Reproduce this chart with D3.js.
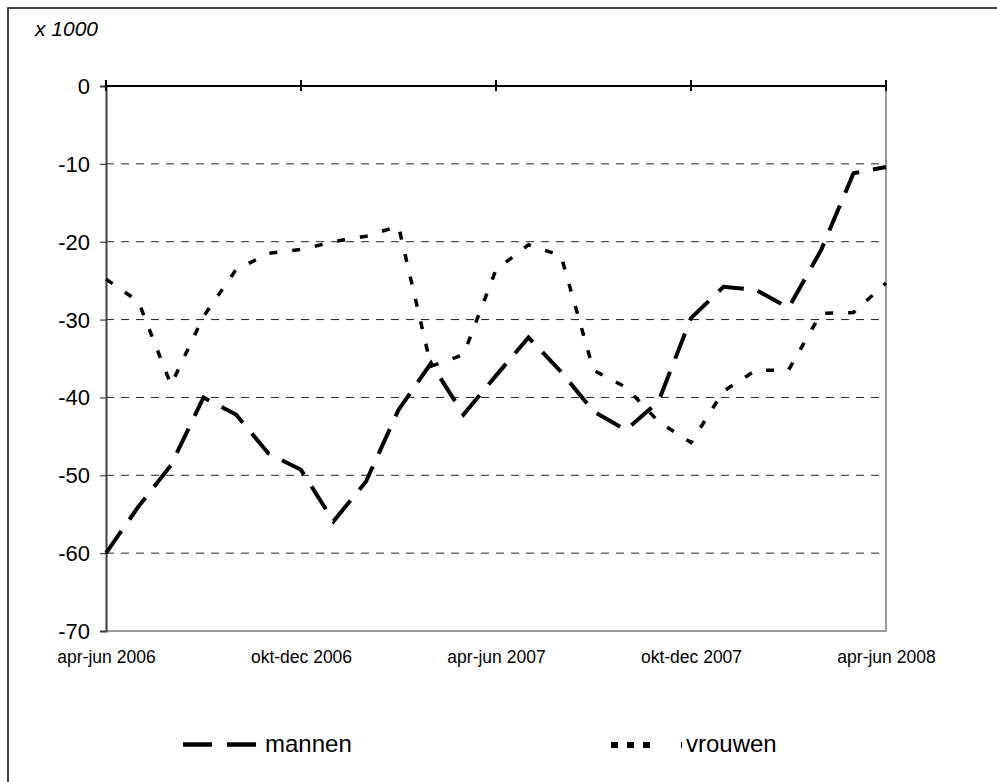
<!DOCTYPE html>
<html>
<head>
<meta charset="utf-8">
<script src="https://cdn.jsdelivr.net/npm/d3@7"></script>
<style>
  html, body { margin: 0; padding: 0; background: #fff; }
  svg { display: block; font-family: "Liberation Sans", Arial, sans-serif; }
</style>
</head>
<body>
<svg id="chart" width="997" height="782"></svg>
<script>
// ---- data ----
const periods = [
  "apr-jun 2006","mei-jul 2006","jun-aug 2006","jul-sep 2006","aug-okt 2006","sep-nov 2006",
  "okt-dec 2006","nov-jan 2007","dec-feb 2007","jan-mrt 2007","feb-apr 2007","mrt-mei 2007",
  "apr-jun 2007","mei-jul 2007","jun-aug 2007","jul-sep 2007","aug-okt 2007","sep-nov 2007",
  "okt-dec 2007","nov-jan 2008","dec-feb 2008","jan-mrt 2008","feb-apr 2008","mrt-mei 2008",
  "apr-jun 2008"
];
const mannen = [-60, -54.0, -48.7, -40.0, -42.2, -47.2, -49.3, -55.9, -50.8, -41.6, -35.6, -42.2,
                -37.2, -32.3, -36.7, -41.8, -44.2, -40.5, -29.8, -25.8, -26.2, -28.5, -21.1, -11.2, -10.4];
const vrouwen = [-24.8, -27.7, -38.4, -29.6, -23.6, -21.5, -21.0, -20.0, -19.3, -18.0, -36.0, -34.5,
                 -23.6, -20.4, -21.8, -36.5, -38.7, -43.1, -45.8, -39.2, -36.5, -36.5, -29.2, -29.1, -25.3];
const xTickLabels = ["apr-jun 2006","okt-dec 2006","apr-jun 2007","okt-dec 2007","apr-jun 2008"];
const yTicks = [0, -10, -20, -30, -40, -50, -60, -70];
const unitLabel = "x 1000";
const seriesNames = ["mannen", "vrouwen"];

// ---- layout ----
const svg = d3.select("#chart");
const L = 106, R = 886, T = 86, B = 631;

const x = d3.scalePoint().domain(periods).range([L, R]);
const y = d3.scaleLinear().domain([-70, 0]).range([B, T]);

// outer frame (top and left edges visible)
svg.append("path")
  .attr("d", "M8,782 L8,8 L997,8")
  .attr("fill", "none").attr("stroke", "#000").attr("stroke-width", 1.5);

// gridlines
svg.append("g").selectAll("line")
  .data(yTicks.filter(v => v !== 0 && v !== -70))
  .join("line")
  .attr("x1", L).attr("x2", R)
  .attr("y1", d => y(d)).attr("y2", d => y(d))
  .attr("stroke", "#222").attr("stroke-width", 1)
  .attr("stroke-dasharray", "8,7");

// right & bottom plot border (gray)
svg.append("path")
  .attr("d", `M${R},${T} L${R},${B} L${L},${B}`)
  .attr("fill", "none").attr("stroke", "#9a9a9a").attr("stroke-width", 2);

// y axis
const yAxis = d3.axisLeft(y).tickValues(yTicks).tickSize(6).tickPadding(10).tickFormat(d3.format("d"));
const gy = svg.append("g").attr("transform", `translate(${L},0)`).call(yAxis);
gy.select(".domain").attr("stroke", "#404040").attr("stroke-width", 2);
gy.selectAll(".tick line").attr("stroke", "#404040").attr("stroke-width", 1.2);
gy.selectAll(".tick text")
  .attr("font-size", 22).attr("fill", "#000")
  .attr("font-family", "'Liberation Sans', Arial, sans-serif")
  .text(d => d === 0 ? "0" : "-" + Math.abs(d))
  .attr("x", -16).attr("dy", "0.34em");

// zero line (top axis) with crossing ticks
const gz = svg.append("g");
gz.append("line")
  .attr("x1", L).attr("x2", R).attr("y1", y(0)).attr("y2", y(0))
  .attr("stroke", "#000").attr("stroke-width", 2);
gz.selectAll("line.t").data(xTickLabels).join("line").attr("class", "t")
  .attr("x1", d => x(d)).attr("x2", d => x(d))
  .attr("y1", y(0) - 6).attr("y2", y(0) + 5)
  .attr("stroke", "#000").attr("stroke-width", 2);

// x labels at bottom
const xAxis = d3.axisBottom(x).tickValues(xTickLabels).tickSize(0).tickPadding(20);
const gx = svg.append("g").attr("transform", `translate(0,${B})`).call(xAxis);
gx.select(".domain").remove();
gx.selectAll(".tick text")
  .attr("font-size", 17.5).attr("fill", "#000")
  .attr("font-family", "'Liberation Sans', Arial, sans-serif");

// unit label
svg.append("text")
  .attr("x", 35).attr("y", 36)
  .attr("font-size", 21).attr("font-style", "italic")
  .text(unitLabel);

// lines
const line = d3.line().x((d, i) => x(periods[i])).y(d => y(d));

svg.append("path").datum(vrouwen)
  .attr("d", line)
  .attr("fill", "none").attr("stroke", "#000").attr("stroke-width", 3.5)
  .attr("stroke-dasharray", "8,15");

svg.append("path").datum(mannen)
  .attr("d", line)
  .attr("fill", "none").attr("stroke", "#000").attr("stroke-width", 4)
  .attr("stroke-dasharray", "27,14");

// legend
const lg = svg.append("g");
lg.append("line")
  .attr("x1", 183).attr("x2", 256).attr("y1", 744.5).attr("y2", 744.5)
  .attr("stroke", "#000").attr("stroke-width", 4.5)
  .attr("stroke-dasharray", "29,15");
lg.append("text").attr("x", 265).attr("y", 752).attr("font-size", 24).text(seriesNames[0]);

lg.append("line")
  .attr("x1", 611).attr("x2", 683).attr("y1", 745).attr("y2", 745)
  .attr("stroke", "#000").attr("stroke-width", 6)
  .attr("stroke-dasharray", "7,9,7,9,7,31,1,100");
lg.append("text").attr("x", 686).attr("y", 752).attr("font-size", 24).text(seriesNames[1]);
</script>
</body>
</html>
